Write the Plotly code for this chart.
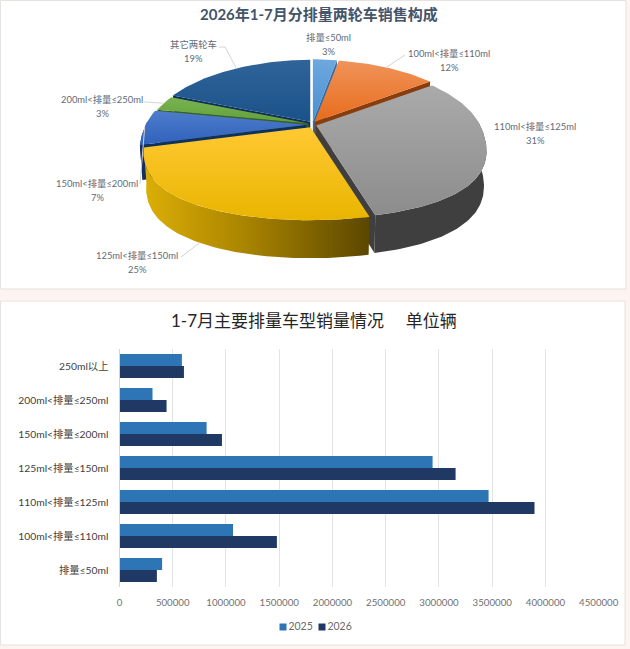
import math
import plotly.graph_objects as go

# ---- data ----
pie_labels = ["排量≤50ml", "100ml<排量≤110ml", "110ml<排量≤125ml", "125ml<排量≤150ml",
              "150ml<排量≤200ml", "200ml<排量≤250ml", "其它两轮车"]
pie_shares = [3, 12, 31, 25, 7, 3, 19]

bar_categories = ["250ml以上", "200ml<排量≤250ml", "150ml<排量≤200ml", "125ml<排量≤150ml",
                  "110ml<排量≤125ml", "100ml<排量≤110ml", "排量≤50ml"]
sales_2025 = [586000, 310000, 818000, 2940000, 3466000, 1066000, 400000]
sales_2026 = [605000, 442000, 962000, 3156000, 3897000, 1478000, 351000]

pie_title = "2026年1-7月分排量两轮车销售构成"
bar_title = "1-7月主要排量车型销量情况     单位辆"

# ---- styling ----
W, H = 630, 649
FONT = "Lato, Noto Sans CJK SC"
top_grad = [("#4a8fd0", "#6ea8de"), ("#e86c1c", "#f0935a"), ("#8c8c8c", "#aaaaaa"),
            ("#e9b500", "#ffc933"), ("#2f62bb", "#4f7ccb"), ("#62a03c", "#78b350"),
            ("#1a5289", "#2f6499")]
wall_col = ["#2f6da8", "#8a3d0c", "#3f3f3f", "#8a6a00", "#10305f", "#3a5f22", "#0f2f55"]
yellow_wall = [[0, "#dcae06"], [0.45, "#a98400"], [1, "#5c4700"]]
label_pos = [(328, 44), (449, 60), (535, 133), (137, 262), (97, 190), (102, 106), (193, 51)]
leader_paths = [None, [(405, 55)], None, [(181, 257)], [(140, 184)], [(144, 102)], [(225, 47), (219, 47)]]
explode = [4, 4, 4, 4, 6, 4, 4]
CX, CY, RX, A, B = 312.5, 124.5, 164.0, 77.5, -15.5
LEFT_SCALE = 0.98
bar_colors = {"2025": "#2e75b6", "2026": "#1f3864"}
legend_pos = {"2025": (283, 627), "2026": (322, 627)}


def rim(t, r=1.0):
    c, s = math.cos(t), math.sin(t)
    f = 1 - 0.22 * c if c > 0 else 1 - 0.22 * c + 0.25 * c * c
    if s < 0:
        f *= LEFT_SCALE
    return (CX + r * RX * s * f, CY - r * (A * c + B * c * c))


def drop(p, t):
    d = 34 - 4 * math.cos(t)
    return (CX + (p[0] - CX) * 0.985, p[1] + d)


fig = go.Figure()

# bars
for name, vals in (("2025", sales_2025), ("2026", sales_2026)):
    fig.add_trace(go.Bar(y=bar_categories, x=vals, name=name, orientation="h", showlegend=False,
                         marker=dict(color=bar_colors[name], line=dict(width=0)), xaxis="x", yaxis="y"))


def poly(pts, fill=None, grad=None, line=None):
    xs = [p[0] for p in pts] + [pts[0][0]]
    ys = [p[1] for p in pts] + [pts[0][1]]
    kw = dict(x=xs, y=ys, mode="lines", fill="toself", showlegend=False, hoverinfo="skip",
              xaxis="x2", yaxis="y2", line=dict(width=0, color=line or "rgba(0,0,0,0)"))
    if grad:
        kw["fillgradient"] = grad
        kw["fillcolor"] = grad["colorscale"][0][1]
    else:
        kw["fillcolor"] = fill
    fig.add_trace(go.Scatter(**kw))


# 3-D pie built from the shares
total = sum(pie_shares)
angles, acc = [], 0
for v in pie_shares:
    a0 = acc / total * 2 * math.pi
    acc += v
    angles.append((a0, acc / total * 2 * math.pi))

order = sorted(range(len(pie_shares)), key=lambda i: -math.cos(sum(angles[i]) / 2))
leader_segments = []
for i in order:
    t0, t1 = angles[i]
    mid = (t0 + t1) / 2
    ex = explode[i] * math.sin(mid)
    ey = -explode[i] * 0.8 * math.cos(mid)
    n = max(6, int((t1 - t0) / 0.02))
    ts = [t0 + (t1 - t0) * k / n for k in range(n + 1)]
    top = [rim(t) for t in ts]
    apex = (CX, CY)
    bottom = [drop(p, t) for p, t in zip(top, ts)]
    shift = lambda P: [(p[0] + ex, p[1] + ey) for p in P]
    # cut faces that look towards the viewer
    if math.cos(t0 - math.pi / 2) < 0:
        poly(shift([apex, top[0], bottom[0], (CX, CY + 34)]), fill=wall_col[i])
    if math.cos(t1 + math.pi / 2) < 0:
        poly(shift([apex, top[-1], bottom[-1], (CX, CY + 34)]), fill=wall_col[i])
    # outer rim wall: only the part facing the viewer
    vis = [k for k, t in enumerate(ts) if math.cos(t) <= 0.05]
    if len(vis) > 1:
        w = [top[k] for k in vis] + [bottom[k] for k in reversed(vis)]
        if i == 3:
            poly(shift(w), grad=dict(type="horizontal", colorscale=yellow_wall))
        else:
            poly(shift(w), fill=wall_col[i])
    a, b = top_grad[i]
    poly(shift([apex] + top), grad=dict(type="vertical", colorscale=[[0, a], [1, b]]))
    # leader line start on the slice edge
    if leader_paths[i] is not None:
        sx, sy = rim(mid)
        if i == 3:
            sx, sy = drop((sx, sy), mid)
        leader_segments.append((i, (sx + ex, sy + ey)))

for i, start in leader_segments:
    pts = [start] + leader_paths[i]
    fig.add_trace(go.Scatter(x=[p[0] for p in pts], y=[p[1] for p in pts], mode="lines",
                             line=dict(color="#d4d4d4", width=1), showlegend=False,
                             hoverinfo="skip", xaxis="x2", yaxis="y2"))

# legend keys
for name, (lx, ly) in legend_pos.items():
    fig.add_trace(go.Scatter(x=[lx], y=[ly], mode="markers+text", text=[name], textposition="middle right",
                             textfont=dict(family=FONT, size=10.5, color="#6a6a6a"),
                             marker=dict(symbol="square", size=7, color=bar_colors[name], line=dict(width=0)),
                             showlegend=False, hoverinfo="skip", xaxis="x2", yaxis="y2"))

label_font = dict(family=FONT, size=9.4, color="#5f6b78")
annotations = []
for lab, v, p in zip(pie_labels, pie_shares, label_pos):
    annotations.append(dict(text=lab, x=p[0], y=p[1] - 7, xref="x2", yref="y2", showarrow=False, font=label_font))
    annotations.append(dict(text=f"{v}%", x=p[0], y=p[1] + 7, xref="x2", yref="y2", showarrow=False, font=label_font))
annotations.append(dict(text=f"<b>{pie_title}</b>", x=319, y=14, xref="x2", yref="y2", showarrow=False,
                        font=dict(family=FONT, size=15, color="#44546a")))
annotations.append(dict(text=bar_title, x=314, y=320, xref="x2", yref="y2", showarrow=False,
                        font=dict(family=FONT, size=17, color="#262626")))

panel = dict(type="rect", xref="paper", yref="paper", fillcolor="#ffffff",
             line=dict(color="#e6e2e0", width=1), layer="below")
shapes = [
    dict(panel, x0=0.5 / W, x1=626 / W, y0=1 - 289 / H, y1=1 - 0.5 / H),
    dict(panel, x0=0.5 / W, x1=625 / W, y0=1 - 645 / H, y1=1 - 301 / H),
]

fig.update_layout(
    width=W, height=H, margin=dict(l=0, r=0, t=0, b=0, autoexpand=False),
    paper_bgcolor="#fdf4f1", plot_bgcolor="rgba(0,0,0,0)",
    font=dict(family=FONT, color="#595959", size=11),
    barmode="group", bargap=0.3, bargroupgap=0,
    shapes=shapes, annotations=annotations,
    xaxis=dict(domain=[119.5 / W, 598.7 / W], range=[0, 4500000], dtick=500000, tickformat="d",
               showgrid=True, gridcolor="#e3e3e3", gridwidth=1, zeroline=False, showline=False,
               tickfont=dict(size=9.7, color="#6f6f6f"), ticks="", anchor="y", ticklabelstandoff=8),
    yaxis=dict(domain=[1 - 587 / H, 1 - 349 / H], autorange="reversed", type="category",
               showline=True, linecolor="#d4d4d4", showgrid=False, ticks="",
               tickfont=dict(size=10.3, color="#404040"), anchor="x", ticklabelstandoff=8),
    xaxis2=dict(domain=[0, 1], range=[0, W], visible=False, anchor="y2", fixedrange=True),
    yaxis2=dict(domain=[0, 1], range=[H, 0], visible=False, anchor="x2", fixedrange=True),
    showlegend=False,
)

fig.write_html("out.html", config={"displayModeBar": False},
               post_script="document.body.style.margin='0';document.body.style.overflow='hidden';")
